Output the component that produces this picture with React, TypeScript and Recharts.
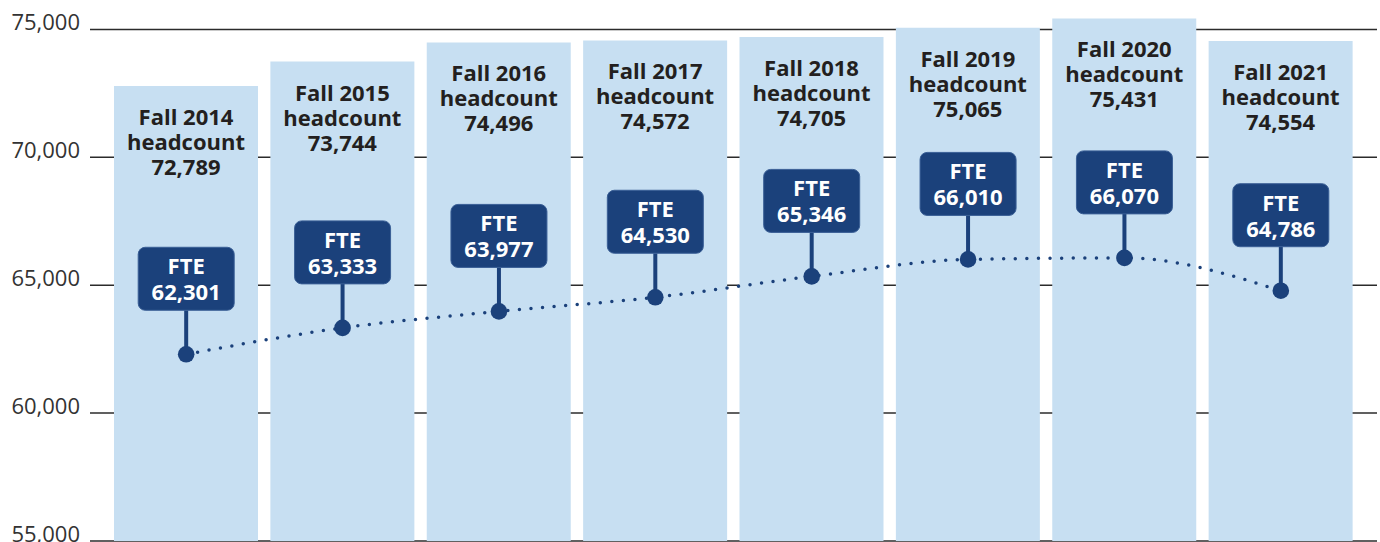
// Headcount vs FTE by fall term: bars for headcount, dotted line with callouts for FTE
import React from 'react';
import { ComposedChart, Bar, Line, XAxis, YAxis, CartesianGrid, LabelList } from 'recharts';

const terms = ['Fall 2014', 'Fall 2015', 'Fall 2016', 'Fall 2017', 'Fall 2018', 'Fall 2019', 'Fall 2020', 'Fall 2021'];
const headcount = [72789, 73744, 74496, 74572, 74705, 75065, 75431, 74554];
const fte = [62301, 63333, 63977, 64530, 65346, 66010, 66070, 64786];
const yTicks = [55000, 60000, 65000, 70000, 75000];

const data = terms.map((term, i) => ({ term, headcount: headcount[i], fte: fte[i] }));

const NAVY = '#1b417b';
const BAR_BLUE = '#c7dff2';
const INK = '#231f20';
const FONT = "'Open Sans', sans-serif";

const fmt = (v: number) => v.toLocaleString('en-US');

const YTick = (props: any) => {
  const { y, payload } = props;
  return (
    <text x={80} y={y + 1} textAnchor="end" fill="#333" fontSize={22} fontFamily={FONT}>
      {fmt(payload.value)}
    </text>
  );
};

const HeadcountLabel = (props: any) => {
  const { x, y, width, value, index } = props;
  const cx = x + width / 2;
  const common = { x: cx, textAnchor: 'middle' as const, fill: INK, fontSize: 22, fontWeight: 700, fontFamily: FONT };
  return (
    <g>
      <text {...common} y={y + 39}>{terms[index]}</text>
      <text {...common} y={y + 64}>headcount</text>
      <text {...common} y={y + 89}>{fmt(value)}</text>
    </g>
  );
};

const FteDot = (props: any) => {
  const { cx, cy, value, index } = props;
  const boxW = 96;
  const boxH = 63;
  const boxBottom = cy - 44;
  const boxTop = boxBottom - boxH;
  return (
    <g key={`fte-${index}`}>
      <line x1={cx} y1={cy} x2={cx} y2={boxBottom} stroke={NAVY} strokeWidth={4} />
      <rect x={cx - boxW / 2} y={boxTop} width={boxW} height={boxH} rx={7} fill={NAVY} stroke="#3a5f96" strokeWidth={1} />
      <text x={cx} y={boxTop + 27} textAnchor="middle" fill="#fff" fontSize={22} fontWeight={700} fontFamily={FONT}>
        FTE
      </text>
      <text x={cx} y={boxTop + 53} textAnchor="middle" fill="#fff" fontSize={22} fontWeight={700} fontFamily={FONT}>
        {fmt(value)}
      </text>
      <circle cx={cx} cy={cy} r={8.3} fill={NAVY} />
    </g>
  );
};

const App: React.FC = () => {
  return (
    <div style={{ position: 'absolute', left: 0, top: 0, background: '#fff' }}>
      <ComposedChart width={1380} height={542} data={data} margin={{ top: 0, right: 3, left: 0, bottom: 1 }}>
        <CartesianGrid vertical={false} stroke="#2b2b2b" strokeWidth={1.5} syncWithTicks />
        <XAxis dataKey="term" hide padding={{ left: 18, right: 18 }} />
        <YAxis
          domain={[55000, 76153]}
          ticks={yTicks}
          interval={0}
          allowDataOverflow
          width={90}
          axisLine={false}
          tickLine={false}
          tick={<YTick />}
        />
        <Bar dataKey="headcount" fill={BAR_BLUE} barSize={144} isAnimationActive={false}>
          <LabelList dataKey="headcount" content={<HeadcountLabel />} />
        </Bar>
        <Line
          dataKey="fte"
          type="monotone"
          stroke={NAVY}
          strokeWidth={3.5}
          strokeDasharray="0 11.6"
          strokeLinecap="round"
          dot={(p: any) => <FteDot {...p} />}
          activeDot={false}
          isAnimationActive={false}
        />
      </ComposedChart>
    </div>
  );
};

export default App;
